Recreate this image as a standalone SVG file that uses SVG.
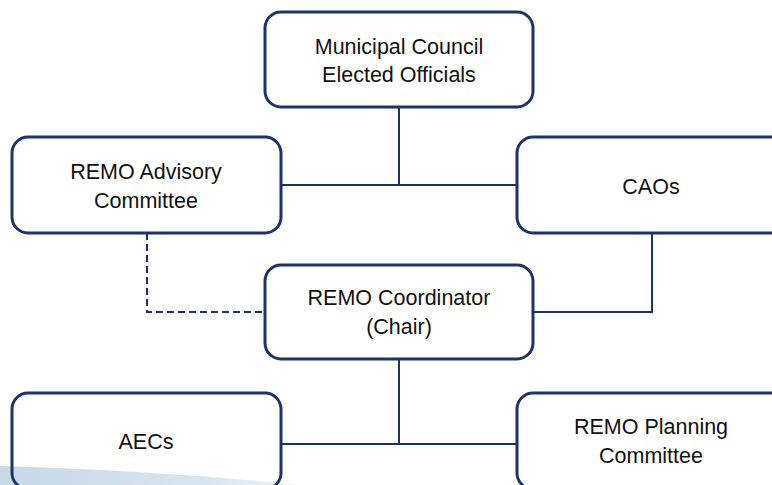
<svg xmlns="http://www.w3.org/2000/svg" width="772" height="485" viewBox="0 0 772 485">
<style>
.box{fill:none;stroke:#1F3366;stroke-width:3}
.lbl{font-family:"Liberation Sans",Arial,sans-serif;font-size:21.5px;fill:#111;text-anchor:middle}
.con{fill:none;stroke:#1F3366;stroke-width:2}
.dash{stroke-dasharray:7 4}
</style>
<defs>
<linearGradient id="sw" x1="0" y1="0" x2="1" y2="0">
<stop offset="0" stop-color="#C8D8E6"/>
<stop offset="0.7" stop-color="#D9E5EE"/>
<stop offset="1" stop-color="#EEF3F7"/>
</linearGradient>
</defs>
<rect width="772" height="485" fill="#fff"/>
<path d="M0,466 Q150,470 300,485 L0,485 Z" fill="url(#sw)"/>
<g id="connectors">
<path class="con" d="M399,107 V185 M281,185 H517"/>
<path class="con" d="M399,359 V444 M281,444 H517"/>
<path class="con" d="M652,233 V312 H533"/>
<path class="con dash" d="M147,233 V312 H265"/>
</g>
<g id="council">
<rect class="box" x="265" y="12" width="268" height="95" rx="16"/>
<text class="lbl" x="399" y="54">Municipal Council</text>
<text class="lbl" x="399" y="82">Elected Officials</text>
</g>
<g id="advisory">
<rect class="box" x="12" y="137" width="269" height="96" rx="16"/>
<text class="lbl" x="146" y="179">REMO Advisory</text>
<text class="lbl" x="146" y="208">Committee</text>
</g>
<g id="caos">
<rect class="box" x="517" y="137" width="270" height="96" rx="16"/>
<text class="lbl" x="651" y="194">CAOs</text>
</g>
<g id="coordinator">
<rect class="box" x="265" y="265" width="268" height="94" rx="16"/>
<text class="lbl" x="399" y="305">REMO Coordinator</text>
<text class="lbl" x="399" y="334">(Chair)</text>
</g>
<g id="aecs">
<rect class="box" x="12" y="393" width="269" height="96" rx="16"/>
<text class="lbl" x="146" y="449">AECs</text>
</g>
<g id="planning">
<rect class="box" x="517" y="393" width="270" height="96" rx="16"/>
<text class="lbl" x="651" y="434">REMO Planning</text>
<text class="lbl" x="651" y="463">Committee</text>
</g>
</svg>
